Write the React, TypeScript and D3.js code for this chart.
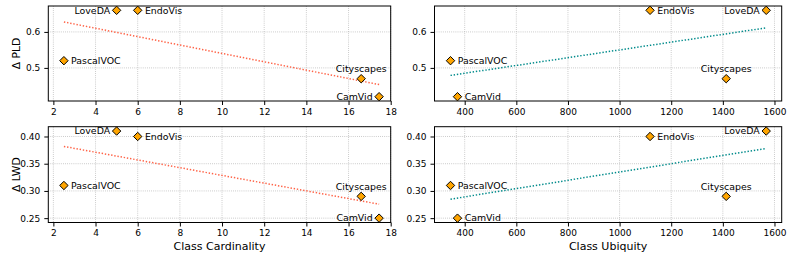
import React, { useEffect, useRef } from "react";
import * as d3 from "d3";

const datasets = ["PascalVOC", "LoveDA", "EndoVis", "Cityscapes", "CamVid"];
const cardinality = [2.5, 5, 6, 16.6, 17.45];
const ubiquity = [345, 1568, 1118, 1413, 372];
const deltaPLD = [0.52, 0.66, 0.66, 0.47, 0.42];
const deltaLWD = [0.31, 0.41, 0.4, 0.29, 0.25];

const cardTicks = [2, 4, 6, 8, 10, 12, 14, 16, 18];
const ubiqTicks = [400, 600, 800, 1000, 1200, 1400, 1600];
const pldTicks = [0.5, 0.6];
const lwdTicks = [0.25, 0.3, 0.35, 0.4];

// label placement per dataset: "l" left, "r" right, "t" above
const placeCard = ["r", "l", "r", "t", "l"];
const placeUbiq = ["r", "l", "r", "t", "r"];

const FONT = "DejaVu Sans, sans-serif";

function fitLine(xs: number[], ys: number[]) {
  const mx = d3.mean(xs)!;
  const my = d3.mean(ys)!;
  let sxy = 0;
  let sxx = 0;
  xs.forEach((x, i) => {
    sxy += (x - mx) * (ys[i] - my);
    sxx += (x - mx) * (x - mx);
  });
  const slope = sxy / sxx;
  const [x0, x1] = d3.extent(xs) as [number, number];
  return [
    [x0, my + slope * (x0 - mx)],
    [x1, my + slope * (x1 - mx)],
  ];
}

const App = () => {
  const svgRef = useRef<SVGSVGElement>(null);

  useEffect(() => {
    const svg = d3.select(svgRef.current);
    svg.selectAll("*").remove();

    const panels = [
      { xs: cardinality, ys: deltaPLD, xlim: [1.76, 18.0], ylim: [0.408, 0.672], xt: cardTicks, yt: pldTicks, yfmt: ".1f", px: [48.3, 390.7], py: [6, 101], color: "tomato", place: placeCard, ylabel: "Δ PLD", xlabel: "" },
      { xs: ubiquity, ys: deltaPLD, xlim: [283, 1628], ylim: [0.408, 0.672], xt: ubiqTicks, yt: pldTicks, yfmt: ".1f", px: [434.5, 781.7], py: [6, 101], color: "darkcyan", place: placeUbiq, ylabel: "", xlabel: "" },
      { xs: cardinality, ys: deltaLWD, xlim: [1.76, 18.0], ylim: [0.242, 0.418], xt: cardTicks, yt: lwdTicks, yfmt: ".2f", px: [48.3, 390.7], py: [126.7, 222.5], color: "tomato", place: placeCard, ylabel: "Δ LWD", xlabel: "Class Cardinality" },
      { xs: ubiquity, ys: deltaLWD, xlim: [283, 1628], ylim: [0.242, 0.418], xt: ubiqTicks, yt: lwdTicks, yfmt: ".2f", px: [434.5, 781.7], py: [126.7, 222.5], color: "darkcyan", place: placeUbiq, ylabel: "", xlabel: "Class Ubiquity" },
    ];

    panels.forEach((p) => {
      const x = d3.scaleLinear().domain(p.xlim).range(p.px);
      const y = d3.scaleLinear().domain(p.ylim).range([p.py[1], p.py[0]]);
      const g = svg.append("g");

      // grid
      g.selectAll(".gx")
        .data(p.xt)
        .join("line")
        .attr("x1", (d) => x(d))
        .attr("x2", (d) => x(d))
        .attr("y1", p.py[0])
        .attr("y2", p.py[1])
        .attr("stroke", "#b0b0b0")
        .attr("stroke-width", 0.8)
        .attr("stroke-dasharray", "0.8,1.3");
      g.selectAll(".gy")
        .data(p.yt)
        .join("line")
        .attr("x1", p.px[0])
        .attr("x2", p.px[1])
        .attr("y1", (d) => y(d))
        .attr("y2", (d) => y(d))
        .attr("stroke", "#b0b0b0")
        .attr("stroke-width", 0.8)
        .attr("stroke-dasharray", "0.8,1.3");

      // trend line
      const fit = fitLine(p.xs, p.ys);
      g.append("path")
        .datum(fit)
        .attr("fill", "none")
        .attr("stroke", p.color)
        .attr("stroke-width", 1.5)
        .attr("stroke-dasharray", "1.4,1.8")
        .attr("d", d3.line<number[]>().x((d) => x(d[0])).y((d) => y(d[1])));

      // axes
      g.append("g")
        .attr("transform", `translate(0,${p.py[1]})`)
        .call(d3.axisBottom(x).tickValues(p.xt).tickFormat(d3.format("d")).tickSize(4).tickPadding(3.5))
        .call((a) => a.select(".domain").remove())
        .call((a) => a.selectAll("text").attr("font-size", 9).attr("font-family", FONT).attr("fill", "#000"));
      g.append("g")
        .attr("transform", `translate(${p.px[0]},0)`)
        .call(d3.axisLeft(y).tickValues(p.yt).tickFormat(d3.format(p.yfmt)).tickSize(4).tickPadding(4))
        .call((a) => a.select(".domain").remove())
        .call((a) => a.selectAll("text").attr("font-size", 9).attr("font-family", FONT).attr("fill", "#000"));

      g.append("rect")
        .attr("x", p.px[0])
        .attr("y", p.py[0])
        .attr("width", p.px[1] - p.px[0])
        .attr("height", p.py[1] - p.py[0])
        .attr("fill", "none")
        .attr("stroke", "#000")
        .attr("stroke-width", 1);

      // markers
      const pts = datasets.map((name, i) => ({ name, cx: x(p.xs[i]), cy: y(p.ys[i]), pl: p.place[i] }));
      g.selectAll(".mk")
        .data(pts)
        .join("path")
        .attr("transform", (d) => `translate(${d.cx},${d.cy})`)
        .attr("d", "M0,-4.2L4.2,0L0,4.2L-4.2,0Z")
        .attr("fill", "orange")
        .attr("stroke", "#000")
        .attr("stroke-width", 1);

      g.selectAll(".lb")
        .data(pts)
        .join("text")
        .attr("x", (d) => (d.pl === "r" ? d.cx + 7.2 : d.pl === "l" ? d.cx - 6.5 : d.cx))
        .attr("y", (d) => (d.pl === "t" ? d.cy - 6.5 : d.cy))
        .attr("dy", (d) => (d.pl === "t" ? 0 : "0.35em"))
        .attr("text-anchor", (d) => (d.pl === "r" ? "start" : d.pl === "l" ? "end" : "middle"))
        .attr("font-size", 9.4)
        .attr("font-family", FONT)
        .text((d) => d.name);

      if (p.ylabel) {
        const cy = (p.py[0] + p.py[1]) / 2;
        g.append("text")
          .attr("transform", `translate(16.7,${cy}) rotate(-90)`)
          .attr("text-anchor", "middle")
          .attr("dy", "0.35em")
          .attr("font-size", 10.8)
          .attr("font-family", FONT)
          .text(p.ylabel);
      }
      if (p.xlabel) {
        g.append("text")
          .attr("x", (p.px[0] + p.px[1]) / 2)
          .attr("y", 250)
          .attr("text-anchor", "middle")
          .attr("font-size", 11)
          .attr("font-family", FONT)
          .text(p.xlabel);
      }
    });
  }, []);

  return (
    <svg
      ref={svgRef}
      width={793}
      height={259}
      style={{ position: "absolute", left: 0, top: 0, background: "#fff" }}
    ></svg>
  );
};

export default App;
